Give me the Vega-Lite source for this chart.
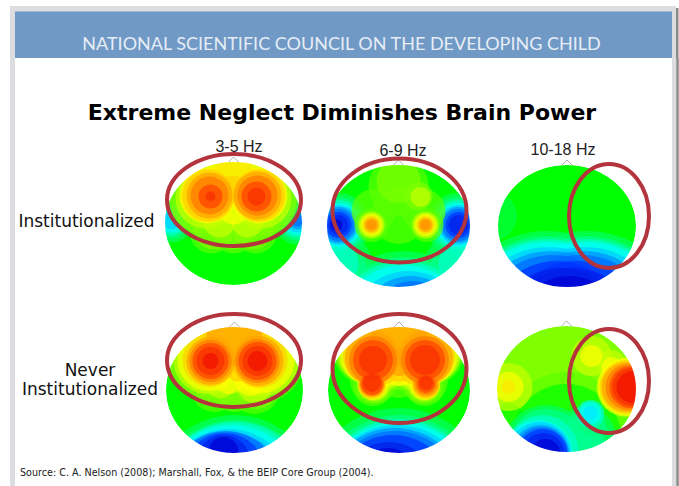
{"$schema":"https://vega.github.io/schema/vega-lite/v6.json","background":"white","padding":0,"spacing":0,"bounds":"flush","columns":4,"align":"each","config":{"view":{"stroke":null}},
"datasets":{
"p1":[{"i":-62,"j":-3,"r":22,"v":9},{"i":64,"j":-3,"r":24,"v":9},{"i":-62,"j":-3,"r":18,"v":8},{"i":64,"j":-3,"r":20,"v":8},{"i":-62,"j":-3,"r":15,"v":7},{"i":64,"j":-3,"r":17,"v":7},{"i":-62,"j":-3,"r":12,"v":6},{"i":64,"j":-3,"r":14,"v":6},{"i":-62,"j":-3,"r":9,"v":5},{"i":64,"j":-3,"r":12,"v":5},{"i":64,"j":-3,"r":9,"v":4},{"i":64,"j":-3,"r":6,"v":3},
{"i":-30,"j":-22,"r":36,"v":11},{"i":30,"j":-22,"r":36,"v":11},{"i":0,"j":-50,"r":36,"v":11},{"i":-22,"j":8,"r":22,"v":11},{"i":22,"j":8,"r":22,"v":11},{"i":0,"j":8,"r":22,"v":11},
{"i":-30,"j":-22,"r":33,"v":12},{"i":30,"j":-22,"r":33,"v":12},{"i":0,"j":-50,"r":34,"v":12},{"i":-20,"j":6,"r":20,"v":12},{"i":20,"j":6,"r":20,"v":12},{"i":0,"j":6,"r":20,"v":12},
{"i":-28,"j":-25,"r":30,"v":13},{"i":28,"j":-25,"r":30,"v":13},{"i":0,"j":-50,"r":32,"v":13},{"i":-14,"j":-2,"r":16,"v":13},{"i":14,"j":-2,"r":16,"v":13},
{"i":-26,"j":-28,"r":28,"v":14},{"i":26,"j":-28,"r":28,"v":14},{"i":0,"j":-52,"r":28,"v":14},{"i":0,"j":-15,"r":16,"v":14},{"i":-26,"j":-28,"r":27,"v":14.5},{"i":26,"j":-28,"r":27,"v":14.5},{"i":0,"j":-50,"r":20,"v":14.5},
{"i":-25,"j":-28,"r":26,"v":15},{"i":25,"j":-28,"r":26,"v":15},{"i":0,"j":-34,"r":14,"v":15},{"i":-24,"j":-28,"r":23,"v":16},{"i":24,"j":-28,"r":24,"v":16},{"i":-24,"j":-28,"r":19,"v":17},{"i":24,"j":-28,"r":20,"v":17},{"i":-23,"j":-27,"r":12,"v":18},{"i":23,"j":-27,"r":15,"v":18},{"i":-23,"j":-27,"r":5,"v":19},{"i":23,"j":-27,"r":9,"v":19}],
"p2":[{"i":-60,"j":-1,"r":32,"v":9},{"i":60,"j":-1,"r":32,"v":9},{"i":-55,"j":40,"r":30,"v":9},{"i":55,"j":40,"r":30,"v":9},{"i":5,"j":105,"r":80,"v":9},
{"i":-60,"j":-1,"r":28,"v":8},{"i":60,"j":-1,"r":28,"v":8},{"i":-58,"j":42,"r":26,"v":8},{"i":58,"j":42,"r":26,"v":8},{"i":5,"j":105,"r":74,"v":8},
{"i":-60,"j":-1,"r":25,"v":7},{"i":60,"j":-1,"r":25,"v":7},{"i":-60,"j":38,"r":20,"v":7},{"i":60,"j":38,"r":20,"v":7},{"i":5,"j":105,"r":70,"v":7},
{"i":-60,"j":-1,"r":22,"v":6},{"i":60,"j":-1,"r":22,"v":6},{"i":5,"j":105,"r":66,"v":6},{"i":-60,"j":-1,"r":20,"v":5},{"i":60,"j":-1,"r":20,"v":5},{"i":10,"j":105,"r":60,"v":5},
{"i":-60,"j":-1,"r":18,"v":4},{"i":60,"j":-1,"r":18,"v":4},{"i":12,"j":100,"r":50,"v":4},{"i":-60,"j":-1,"r":16,"v":3},{"i":60,"j":-1,"r":16,"v":3},{"i":14,"j":95,"r":40,"v":3},
{"i":-60,"j":-1,"r":13,"v":2},{"i":60,"j":-1,"r":13,"v":2},{"i":-60,"j":-1,"r":10,"v":1},{"i":60,"j":-1,"r":10,"v":1},{"i":-62,"j":-1,"r":6,"v":0},
{"i":-25,"j":-15,"r":22,"v":11},{"i":25,"j":-15,"r":22,"v":11},{"i":0,"j":-40,"r":30,"v":11},{"i":0,"j":-10,"r":28,"v":11},{"i":28,"j":-1,"r":17,"v":11},{"i":-27,"j":-1,"r":17,"v":11},
{"i":0,"j":-45,"r":22,"v":12},{"i":20,"j":-30,"r":14,"v":12},{"i":-27,"j":-1,"r":14,"v":12},{"i":27,"j":-1,"r":14,"v":12},
{"i":22,"j":-29,"r":10,"v":13},{"i":-27,"j":-1,"r":13,"v":13},{"i":27,"j":-1,"r":13,"v":13},{"i":-27,"j":-1,"r":11,"v":14},{"i":27,"j":-1,"r":11,"v":14},{"i":-27,"j":-1,"r":9,"v":15},{"i":27,"j":-1,"r":9,"v":15},{"i":-27,"j":-1,"r":7,"v":16},{"i":27,"j":-1,"r":7,"v":16},{"i":-27,"j":-1,"r":5,"v":16.5},{"i":27,"j":-1,"r":5,"v":16.5}],
"p3":[{"i":-75,"j":-10,"r":25,"v":9.5},{"i":-20,"j":105,"r":100,"v":9},{"i":20,"j":105,"r":100,"v":9},{"i":-20,"j":105,"r":95,"v":8},{"i":20,"j":105,"r":95,"v":8},{"i":-20,"j":105,"r":92,"v":7},{"i":20,"j":105,"r":92,"v":7},{"i":-20,"j":105,"r":89,"v":6},{"i":20,"j":105,"r":89,"v":6},{"i":-18,"j":105,"r":84,"v":5},{"i":18,"j":105,"r":84,"v":5},{"i":-16,"j":105,"r":80,"v":4},{"i":16,"j":105,"r":80,"v":4},{"i":-14,"j":105,"r":76,"v":3},{"i":14,"j":105,"r":76,"v":3},{"i":-10,"j":105,"r":70,"v":2},{"i":10,"j":105,"r":70,"v":2},{"i":-6,"j":105,"r":63,"v":1},{"i":6,"j":105,"r":63,"v":1},{"i":2,"j":105,"r":55,"v":0}],
"p4":[{"i":0,"j":110,"r":85,"v":9},{"i":0,"j":110,"r":80,"v":8},{"i":0,"j":108,"r":76,"v":7},{"i":-3,"j":108,"r":73,"v":6},{"i":-6,"j":105,"r":66,"v":5},{"i":-8,"j":105,"r":63,"v":4},{"i":-9,"j":95,"r":54,"v":3},{"i":-10,"j":85,"r":42,"v":2},{"i":-11,"j":72,"r":27,"v":1},{"i":-11,"j":62,"r":15,"v":0},
{"i":-28,"j":-30,"r":40,"v":11},{"i":28,"j":-30,"r":42,"v":11},{"i":0,"j":-48,"r":40,"v":11},{"i":-20,"j":-2,"r":24,"v":11},{"i":20,"j":-2,"r":26,"v":11},{"i":0,"j":-2,"r":24,"v":11},
{"i":-28,"j":-30,"r":37,"v":12},{"i":28,"j":-30,"r":39,"v":12},{"i":0,"j":-48,"r":38,"v":12},{"i":-20,"j":-3,"r":20,"v":12},{"i":22,"j":-3,"r":22,"v":12},{"i":0,"j":-4,"r":20,"v":12},
{"i":-27,"j":-30,"r":34,"v":13},{"i":28,"j":-30,"r":36,"v":13},{"i":0,"j":-50,"r":36,"v":13},{"i":-14,"j":-8,"r":16,"v":13},{"i":20,"j":-5,"r":18,"v":13},
{"i":-26,"j":-30,"r":31,"v":14},{"i":27,"j":-30,"r":33,"v":14},{"i":0,"j":-52,"r":34,"v":14},{"i":16,"j":-10,"r":16,"v":14},{"i":-5,"j":-12,"r":16,"v":14},
{"i":-25,"j":-30,"r":27,"v":15},{"i":25,"j":-30,"r":28,"v":15},{"i":0,"j":-52,"r":32,"v":15},{"i":3,"j":-18,"r":10,"v":15},
{"i":-24,"j":-29,"r":24,"v":16},{"i":24,"j":-29,"r":25,"v":16},{"i":0,"j":-52,"r":28,"v":16},
{"i":-24,"j":-29,"r":21,"v":17},{"i":23,"j":-29,"r":22,"v":17},{"i":-24,"j":-29,"r":18,"v":18},{"i":23,"j":-29,"r":19,"v":18},{"i":-24,"j":-29,"r":14,"v":19},{"i":23,"j":-29,"r":15,"v":19},{"i":-24,"j":-29,"r":8,"v":20},{"i":23,"j":-29,"r":10,"v":20}],
"p5":[{"i":0,"j":110,"r":92,"v":9},{"i":0,"j":110,"r":85,"v":8},{"i":0,"j":110,"r":81,"v":7},{"i":0,"j":110,"r":78,"v":6},{"i":-2,"j":110,"r":75,"v":5},{"i":-4,"j":110,"r":72,"v":4},{"i":-4,"j":108,"r":67,"v":3},{"i":-6,"j":105,"r":60,"v":2},{"i":-10,"j":100,"r":48,"v":1},{"i":-11,"j":90,"r":32,"v":0},
{"i":-30,"j":-40,"r":36,"v":11},{"i":30,"j":-40,"r":36,"v":11},{"i":0,"j":-48,"r":40,"v":11},{"i":-25,"j":-10,"r":24,"v":11},{"i":25,"j":-10,"r":24,"v":11},{"i":-26,"j":-4,"r":20,"v":11},{"i":26,"j":-4,"r":20,"v":11},{"i":0,"j":-10,"r":18,"v":11},
{"i":-30,"j":-40,"r":34,"v":12},{"i":30,"j":-40,"r":34,"v":12},{"i":0,"j":-48,"r":38,"v":12},{"i":-25,"j":-5,"r":18,"v":12},{"i":25,"j":-5,"r":18,"v":12},{"i":-16,"j":-15,"r":18,"v":12},{"i":16,"j":-15,"r":18,"v":12},{"i":0,"j":-14,"r":14,"v":12},
{"i":-30,"j":-38,"r":32,"v":13},{"i":30,"j":-38,"r":32,"v":13},{"i":0,"j":-48,"r":36,"v":13},{"i":-25,"j":-5,"r":16,"v":13},{"i":25,"j":-5,"r":16,"v":13},{"i":-14,"j":-16,"r":16,"v":13},{"i":14,"j":-16,"r":16,"v":13},{"i":0,"j":-18,"r":14,"v":13},
{"i":-28,"j":-36,"r":31,"v":14},{"i":28,"j":-36,"r":31,"v":14},{"i":0,"j":-48,"r":34,"v":14},{"i":-26,"j":-5,"r":15,"v":14},{"i":26,"j":-5,"r":15,"v":14},{"i":-14,"j":-18,"r":15,"v":14},{"i":14,"j":-18,"r":15,"v":14},{"i":0,"j":-20,"r":16,"v":14},
{"i":-27,"j":-34,"r":29,"v":15},{"i":27,"j":-34,"r":29,"v":15},{"i":0,"j":-50,"r":32,"v":15},{"i":-27,"j":-5,"r":14,"v":15},{"i":27,"j":-5,"r":14,"v":15},{"i":0,"j":-22,"r":14,"v":15},{"i":-14,"j":-20,"r":14,"v":15},{"i":14,"j":-20,"r":14,"v":15},
{"i":-27,"j":-32,"r":27,"v":16},{"i":27,"j":-32,"r":27,"v":16},{"i":0,"j":-52,"r":28,"v":16},{"i":-27,"j":-6,"r":13,"v":16},{"i":27,"j":-6,"r":13,"v":16},{"i":0,"j":-28,"r":14,"v":16},
{"i":-26,"j":-30,"r":24,"v":17},{"i":26,"j":-30,"r":24,"v":17},{"i":-27,"j":-6,"r":12,"v":17},{"i":27,"j":-6,"r":11,"v":17},{"i":-28,"j":-18,"r":10,"v":17},{"i":28,"j":-18,"r":8,"v":17},
{"i":-26,"j":-30,"r":20,"v":18},{"i":26,"j":-30,"r":20,"v":18},{"i":-27,"j":-6,"r":11,"v":18},{"i":27,"j":-6,"r":9,"v":18},
{"i":-26,"j":-30,"r":14,"v":19},{"i":26,"j":-30,"r":15,"v":19},{"i":-27,"j":-7,"r":9,"v":19},{"i":27,"j":-7,"r":7,"v":19}],
"p6":[{"i":0,"j":45,"r":62,"v":11},{"i":-55,"j":25,"r":20,"v":11},{"i":55,"j":25,"r":25,"v":11},{"i":0,"j":50,"r":55,"v":10},{"i":-58,"j":30,"r":16,"v":10},
{"i":-20,"j":60,"r":44,"v":9},{"i":18,"j":50,"r":32,"v":9},{"i":30,"j":60,"r":26,"v":9},{"i":-20,"j":60,"r":40,"v":8},{"i":20,"j":40,"r":20,"v":8},{"i":10,"j":65,"r":22,"v":8},{"i":28,"j":65,"r":18,"v":8},
{"i":-24,"j":62,"r":36,"v":7},{"i":24,"j":25,"r":14,"v":7},{"i":-28,"j":65,"r":34,"v":6},{"i":24,"j":24,"r":11,"v":6},{"i":24,"j":24,"r":7,"v":5.5},{"i":-27,"j":65,"r":32,"v":5},{"i":-26,"j":65,"r":29,"v":4},{"i":-25,"j":65,"r":27,"v":3},{"i":-24,"j":65,"r":25,"v":2},{"i":-23,"j":65,"r":21,"v":1},{"i":-21,"j":65,"r":15,"v":0},
{"i":-58,"j":-2,"r":24,"v":13},{"i":25,"j":-33,"r":20,"v":13},{"i":45,"j":-25,"r":14,"v":13},{"i":60,"j":-2,"r":30,"v":13},
{"i":-58,"j":-2,"r":15,"v":14},{"i":25,"j":-33,"r":11,"v":14},{"i":45,"j":-22,"r":10,"v":14},{"i":60,"j":-2,"r":29,"v":14},
{"i":-58,"j":-2,"r":7,"v":14.5},{"i":60,"j":-2,"r":27,"v":15},{"i":60,"j":-2,"r":25,"v":16},{"i":62,"j":-2,"r":23,"v":17},{"i":64,"j":-2,"r":21,"v":18},{"i":65,"j":-2,"r":19,"v":19},{"i":66,"j":-2,"r":16,"v":20}]
},
"concat":[
{"width":150,"height":305,
"encoding":{"x":{"field":"a","type":"quantitative","scale":{"domain":[0,150],"nice":false,"zero":false},"axis":null},"y":{"field":"c","type":"quantitative","scale":{"domain":[305,0],"nice":false,"zero":false},"axis":null}},
"layer":[
{"data":{"values":[{"a":10,"b":676,"c":6,"d":58},{"a":10,"b":15,"c":58,"d":305}]},"mark":{"type":"rect","color":"#dcdde0"},"encoding":{"x2":{"field":"b"},"y2":{"field":"d"}}},
{"data":{"values":[{"a":676,"b":678.5,"c":8,"d":58}]},"mark":{"type":"rect","color":"#8a8a8a"},"encoding":{"x2":{"field":"b"},"y2":{"field":"d"}}},
{"data":{"values":[{"a":15,"b":672,"c":11.5,"d":58}]},"mark":{"type":"rect","color":"#7099c6"},"encoding":{"x2":{"field":"b"},"y2":{"field":"d"}}},
{"data":{"values":[{"a":341.5,"c":45,"t":"NATIONAL SCIENTIFIC COUNCIL ON THE DEVELOPING CHILD"}]},"mark":{"type":"text","font":"Lato","fontSize":18,"color":"#e6edf5","align":"center","baseline":"middle"},"encoding":{"text":{"field":"t"}}}
]},
{"width":167,"height":305,
"encoding":{"x":{"field":"i","type":"quantitative","scale":{"domain":[-83.5,83.5],"nice":false,"zero":false},"axis":null},"y":{"field":"j","type":"quantitative","scale":{"domain":[81.5,-223.5],"nice":false,"zero":false},"axis":null}},
"layer":[
{"data":{"values":[{"i":0,"j":0,"v":10}]},"mark":{"type":"point","shape":"M-68.5,0A68.5,61.5 0 1 0 68.5,0A68.5,61.5 0 1 0 -68.5,0Z","size":4,"filled":true,"opacity":1},"encoding":{"color":{"field":"v","type":"quantitative","legend":null,"scale":{"domain":[0,2,4,6,8,10,12,14,16,18,20],"range":["#0000d0","#0030ff","#0090ff","#00ffff","#00ff90","#00ff00","#80ff00","#ffff00","#ffa000","#ff4000","#f01000"]}}}},
{"data":{"name":"p1"},"mark":{"type":"point","shape":"circle","filled":true,"opacity":0.7,"clip":true},"encoding":{"color":{"field":"v","type":"quantitative","legend":null},"size":{"field":"r","type":"quantitative","legend":null,"scale":{"type":"pow","exponent":2,"domain":[0,100],"range":[0,40000]}}}},
{"data":{"values":[{"i":0,"j":0}]},"mark":{"type":"point","shape":"M-118.5,0A118.5,111.5 0 1 0 118.5,0A118.5,111.5 0 1 0 -118.5,0Z","size":4,"filled":false,"opacity":1,"stroke":"white","strokeWidth":100,"clip":true}},
{"data":{"values":[{"i":0,"j":-61.5}]},"mark":{"type":"point","shape":"M-5,0L0,-5L5,0","size":4,"filled":false,"opacity":1,"stroke":"#999999","strokeWidth":0.8}},
{"data":{"values":[{"i":5.5,"j":-76.5,"t":"3-5 Hz"}]},"mark":{"type":"text","font":"Liberation Sans","fontSize":16,"color":"#222222","baseline":"middle"},"encoding":{"text":{"field":"t"}}},
{"data":{"values":[{"i":-147,"j":-1.7,"t":"Institutionalized"}]},"mark":{"type":"text","font":"DejaVu Sans","fontSize":17,"color":"#111111","baseline":"middle"},"encoding":{"text":{"field":"t"}}},
{"data":{"values":[{"i":0.5,"j":-23.5}]},"mark":{"type":"point","shape":"M-67,0A67,46 0 1 0 67,0A67,46 0 1 0 -67,0Z","size":4,"filled":false,"opacity":1,"stroke":"#b3343c","strokeWidth":4}}
]},
{"width":166,"height":305,
"encoding":{"x":{"field":"i","type":"quantitative","scale":{"domain":[-81.5,84.5],"nice":false,"zero":false},"axis":null},"y":{"field":"j","type":"quantitative","scale":{"domain":[79,-226],"nice":false,"zero":false},"axis":null}},
"layer":[
{"data":{"values":[{"i":0,"j":0,"v":10}]},"mark":{"type":"point","shape":"M-71.5,0A71.5,61 0 1 0 71.5,0A71.5,61 0 1 0 -71.5,0Z","size":4,"filled":true,"opacity":1},"encoding":{"color":{"field":"v","type":"quantitative","legend":null,"scale":{"domain":[0,2,4,6,8,10,12,14,16,18,20],"range":["#0000d0","#0030ff","#0090ff","#00ffff","#00ff90","#00ff00","#80ff00","#ffff00","#ffa000","#ff4000","#f01000"]}}}},
{"data":{"name":"p2"},"mark":{"type":"point","shape":"circle","filled":true,"opacity":0.7,"clip":true},"encoding":{"color":{"field":"v","type":"quantitative","legend":null},"size":{"field":"r","type":"quantitative","legend":null,"scale":{"type":"pow","exponent":2,"domain":[0,100],"range":[0,40000]}}}},
{"data":{"values":[{"i":0,"j":0}]},"mark":{"type":"point","shape":"M-121.5,0A121.5,111 0 1 0 121.5,0A121.5,111 0 1 0 -121.5,0Z","size":4,"filled":false,"opacity":1,"stroke":"white","strokeWidth":100,"clip":true}},
{"data":{"values":[{"i":0,"j":-61}]},"mark":{"type":"point","shape":"M-5,0L0,-5L5,0","size":4,"filled":false,"opacity":1,"stroke":"#999999","strokeWidth":0.8}},
{"data":{"values":[{"i":4.5,"j":-75,"t":"6-9 Hz"}]},"mark":{"type":"text","font":"Liberation Sans","fontSize":16,"color":"#222222","baseline":"middle"},"encoding":{"text":{"field":"t"}}},
{"data":{"values":[{"i":1,"j":-15.5}]},"mark":{"type":"point","shape":"M-67,0A67,52 0 1 0 67,0A67,52 0 1 0 -67,0Z","size":4,"filled":false,"opacity":1,"stroke":"#b3343c","strokeWidth":4}}
]},
{"width":196,"height":305,
"encoding":{"x":{"field":"i","type":"quantitative","scale":{"domain":[-84,112],"nice":false,"zero":false},"axis":null},"y":{"field":"j","type":"quantitative","scale":{"domain":[79,-226],"nice":false,"zero":false},"axis":null}},
"layer":[
{"data":{"values":[{"i":0,"j":0,"v":10}]},"mark":{"type":"point","shape":"M-69,0A69,61 0 1 0 69,0A69,61 0 1 0 -69,0Z","size":4,"filled":true,"opacity":1},"encoding":{"color":{"field":"v","type":"quantitative","legend":null,"scale":{"domain":[0,2,4,6,8,10,12,14,16,18,20],"range":["#0000d0","#0030ff","#0090ff","#00ffff","#00ff90","#00ff00","#80ff00","#ffff00","#ffa000","#ff4000","#f01000"]}}}},
{"data":{"name":"p3"},"mark":{"type":"point","shape":"circle","filled":true,"opacity":0.7,"clip":true},"encoding":{"color":{"field":"v","type":"quantitative","legend":null},"size":{"field":"r","type":"quantitative","legend":null,"scale":{"type":"pow","exponent":2,"domain":[0,100],"range":[0,40000]}}}},
{"data":{"values":[{"i":0,"j":0}]},"mark":{"type":"point","shape":"M-119,0A119,111 0 1 0 119,0A119,111 0 1 0 -119,0Z","size":4,"filled":false,"opacity":1,"stroke":"white","strokeWidth":100,"clip":true}},
{"data":{"values":[{"i":107,"j":-168,"k":79}]},"mark":{"type":"rule","color":"#dcdde0","strokeWidth":4},"encoding":{"y2":{"field":"k"}}},
{"data":{"values":[{"i":110.5,"j":-168,"k":79}]},"mark":{"type":"rule","color":"#8a8a8a","strokeWidth":2.5},"encoding":{"y2":{"field":"k"}}},
{"data":{"values":[{"i":0,"j":-61}]},"mark":{"type":"point","shape":"M-5,0L0,-5L5,0","size":4,"filled":false,"opacity":1,"stroke":"#999999","strokeWidth":0.8}},
{"data":{"values":[{"i":-4,"j":-76,"t":"10-18 Hz"}]},"mark":{"type":"text","font":"Liberation Sans","fontSize":16,"color":"#222222","baseline":"middle"},"encoding":{"text":{"field":"t"}}},
{"data":{"values":[{"i":-225,"j":-113,"t":"Extreme Neglect Diminishes Brain Power"}]},"mark":{"type":"text","font":"DejaVu Sans","fontWeight":"bold","fontSize":22,"color":"#000000","align":"center","baseline":"middle"},"encoding":{"text":{"field":"t"}}},
{"data":{"values":[{"i":42,"j":-10}]},"mark":{"type":"point","shape":"M-40,0A40,52 0 1 0 40,0A40,52 0 1 0 -40,0Z","size":4,"filled":false,"opacity":1,"stroke":"#b3343c","strokeWidth":4}}
]},
{"width":150,"height":181,"data":{"values":[{"a":12.5,"c":0,"d":181}]},"mark":{"type":"rule","color":"#dcdde0","strokeWidth":5},"encoding":{"x":{"field":"a","type":"quantitative","scale":{"domain":[0,150],"nice":false,"zero":false},"axis":null},"y":{"field":"c","type":"quantitative","scale":{"domain":[181,0],"nice":false,"zero":false},"axis":null},"y2":{"field":"d"}}},
{"width":167,"height":181,
"encoding":{"x":{"field":"i","type":"quantitative","scale":{"domain":[-84.5,82.5],"nice":false,"zero":false},"axis":null},"y":{"field":"j","type":"quantitative","scale":{"domain":[96,-85],"nice":false,"zero":false},"axis":null}},
"layer":[
{"data":{"values":[{"i":0,"j":0,"v":10}]},"mark":{"type":"point","shape":"M-68.5,0A68.5,63 0 1 0 68.5,0A68.5,63 0 1 0 -68.5,0Z","size":4,"filled":true,"opacity":1},"encoding":{"color":{"field":"v","type":"quantitative","legend":null,"scale":{"domain":[0,2,4,6,8,10,12,14,16,18,20],"range":["#0000d0","#0030ff","#0090ff","#00ffff","#00ff90","#00ff00","#80ff00","#ffff00","#ffa000","#ff4000","#f01000"]}}}},
{"data":{"name":"p4"},"mark":{"type":"point","shape":"circle","filled":true,"opacity":0.7,"clip":true},"encoding":{"color":{"field":"v","type":"quantitative","legend":null},"size":{"field":"r","type":"quantitative","legend":null,"scale":{"type":"pow","exponent":2,"domain":[0,100],"range":[0,40000]}}}},
{"data":{"values":[{"i":0,"j":0}]},"mark":{"type":"point","shape":"M-118.5,0A118.5,113 0 1 0 118.5,0A118.5,113 0 1 0 -118.5,0Z","size":4,"filled":false,"opacity":1,"stroke":"white","strokeWidth":100,"clip":true}},
{"data":{"values":[{"i":0,"j":-63}]},"mark":{"type":"point","shape":"M-5,0L0,-5L5,0","size":4,"filled":false,"opacity":1,"stroke":"#999999","strokeWidth":0.8}},
{"data":{"values":[{"i":-144.5,"j":-19,"t":"Never"},{"i":-144.5,"j":0,"t":"Institutionalized"}]},"mark":{"type":"text","font":"DejaVu Sans","fontSize":17,"color":"#111111","baseline":"middle"},"encoding":{"text":{"field":"t"}}},
{"data":{"values":[{"i":-0.5,"j":-29.5}]},"mark":{"type":"point","shape":"M-67,0A67,46.5 0 1 0 67,0A67,46.5 0 1 0 -67,0Z","size":4,"filled":false,"opacity":1,"stroke":"#b3343c","strokeWidth":4}}
]},
{"width":166,"height":181,
"encoding":{"x":{"field":"i","type":"quantitative","scale":{"domain":[-82,84],"nice":false,"zero":false},"axis":null},"y":{"field":"j","type":"quantitative","scale":{"domain":[96,-85],"nice":false,"zero":false},"axis":null}},
"layer":[
{"data":{"values":[{"i":0,"j":0,"v":10}]},"mark":{"type":"point","shape":"M-71,0A71,63 0 1 0 71,0A71,63 0 1 0 -71,0Z","size":4,"filled":true,"opacity":1},"encoding":{"color":{"field":"v","type":"quantitative","legend":null,"scale":{"domain":[0,2,4,6,8,10,12,14,16,18,20],"range":["#0000d0","#0030ff","#0090ff","#00ffff","#00ff90","#00ff00","#80ff00","#ffff00","#ffa000","#ff4000","#f01000"]}}}},
{"data":{"name":"p5"},"mark":{"type":"point","shape":"circle","filled":true,"opacity":0.7,"clip":true},"encoding":{"color":{"field":"v","type":"quantitative","legend":null},"size":{"field":"r","type":"quantitative","legend":null,"scale":{"type":"pow","exponent":2,"domain":[0,100],"range":[0,40000]}}}},
{"data":{"values":[{"i":0,"j":0}]},"mark":{"type":"point","shape":"M-121,0A121,113 0 1 0 121,0A121,113 0 1 0 -121,0Z","size":4,"filled":false,"opacity":1,"stroke":"white","strokeWidth":100,"clip":true}},
{"data":{"values":[{"i":0,"j":-63}]},"mark":{"type":"point","shape":"M-5,0L0,-5L5,0","size":4,"filled":false,"opacity":1,"stroke":"#999999","strokeWidth":0.8}},
{"data":{"values":[{"i":0.5,"j":-21.5}]},"mark":{"type":"point","shape":"M-67,0A67,54.5 0 1 0 67,0A67,54.5 0 1 0 -67,0Z","size":4,"filled":false,"opacity":1,"stroke":"#b3343c","strokeWidth":4}}
]},
{"width":196,"height":181,
"encoding":{"x":{"field":"i","type":"quantitative","scale":{"domain":[-83.5,112.5],"nice":false,"zero":false},"axis":null},"y":{"field":"j","type":"quantitative","scale":{"domain":[97,-84],"nice":false,"zero":false},"axis":null}},
"layer":[
{"data":{"values":[{"i":0,"j":0,"v":12}]},"mark":{"type":"point","shape":"M-69.5,0A69.5,63 0 1 0 69.5,0A69.5,63 0 1 0 -69.5,0Z","size":4,"filled":true,"opacity":1},"encoding":{"color":{"field":"v","type":"quantitative","legend":null,"scale":{"domain":[0,2,4,6,8,10,12,14,16,18,20],"range":["#0000d0","#0030ff","#0090ff","#00ffff","#00ff90","#00ff00","#80ff00","#ffff00","#ffa000","#ff4000","#f01000"]}}}},
{"data":{"name":"p6"},"mark":{"type":"point","shape":"circle","filled":true,"opacity":0.7,"clip":true},"encoding":{"color":{"field":"v","type":"quantitative","legend":null},"size":{"field":"r","type":"quantitative","legend":null,"scale":{"type":"pow","exponent":2,"domain":[0,100],"range":[0,40000]}}}},
{"data":{"values":[{"i":0,"j":0}]},"mark":{"type":"point","shape":"M-119.5,0A119.5,113 0 1 0 119.5,0A119.5,113 0 1 0 -119.5,0Z","size":4,"filled":false,"opacity":1,"stroke":"white","strokeWidth":100,"clip":true}},
{"data":{"values":[{"i":107.5,"j":-84,"k":97}]},"mark":{"type":"rule","color":"#dcdde0","strokeWidth":4},"encoding":{"y2":{"field":"k"}}},
{"data":{"values":[{"i":111,"j":-84,"k":97}]},"mark":{"type":"rule","color":"#8a8a8a","strokeWidth":2.5},"encoding":{"y2":{"field":"k"}}},
{"data":{"values":[{"i":0,"j":-63}]},"mark":{"type":"point","shape":"M-5,0L0,-5L5,0","size":4,"filled":false,"opacity":1,"stroke":"#999999","strokeWidth":0.8}},
{"data":{"values":[{"i":42.5,"j":-8}]},"mark":{"type":"point","shape":"M-40,0A40,52 0 1 0 40,0A40,52 0 1 0 -40,0Z","size":4,"filled":false,"opacity":1,"stroke":"#b3343c","strokeWidth":4}},
{"data":{"values":[{"i":-546.5,"j":83.7,"t":"Source: C. A. Nelson (2008); Marshall, Fox, & the BEIP Core Group (2004)."}]},"mark":{"type":"text","font":"DejaVu Sans","fontSize":9.6,"color":"#222222","align":"left","baseline":"middle"},"encoding":{"text":{"field":"t"}}}
]}
]}
